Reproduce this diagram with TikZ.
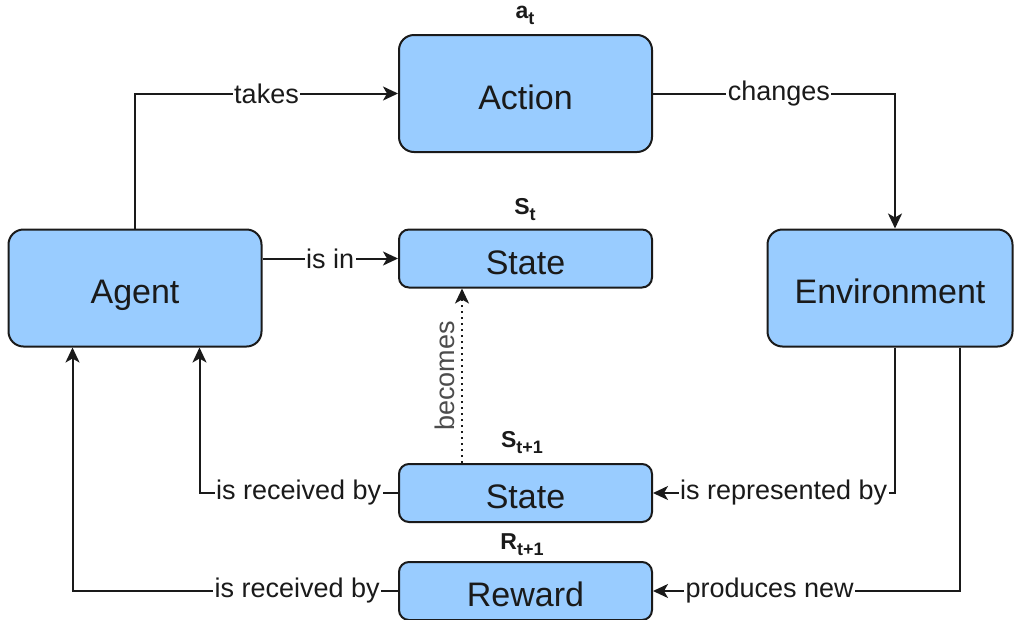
\documentclass[tikz,border=0pt]{standalone}
\usepackage{fontspec}
\setmainfont{Liberation Sans}
\usetikzlibrary{arrows.meta,calc}
\definecolor{boxfill}{HTML}{99CCFF}
\definecolor{ink}{HTML}{1A1A1A}
\newcommand\lowsub[1]{\raisebox{-6pt}{\fontsize{18}{20}\selectfont #1}}
\begin{document}
\begin{tikzpicture}[x=1pt,y=-1pt,
  box/.style={draw=ink, fill=boxfill, line width=2pt, rounded corners=15pt,
    inner sep=0pt, text=ink, text height=31pt, text depth=0pt,
    font=\fontsize{34}{40}\selectfont},
  bigbox/.style={box, minimum width=253pt, minimum height=117pt},
  slimbox/.style={box, minimum width=253pt, minimum height=58pt, rounded corners=10pt},
  link/.style={draw=ink, line width=2pt, -{Stealth[length=15pt,width=14pt,inset=4pt]}},
  tag/.style={fill=white, inner sep=1.5pt, text=ink, font=\fontsize{27}{32}\selectfont},
  sym/.style={text=ink, inner sep=0pt, font=\fontsize{23}{26}\selectfont\bfseries}]
\useasboundingbox (0,0) rectangle (1014,619);

% main blocks
\node[bigbox] (action) at (525.5,93.5) {Action};
\node[bigbox] (agent) at (135,288) {Agent};
\node[bigbox, minimum width=245pt] (env) at (890,288) {Environment};
\node[slimbox] (st) at (525.5,258.5) {State};
\node[slimbox] (snext) at (525.5,493) {State};
\node[slimbox] (reward) at (525.5,591) {Reward};

% symbols above the blocks
\node[sym] (asym) at (525,15) {a\lowsub{t}};
\node[sym] (ssym) at (525,210) {S\lowsub{t}};
\node[sym] (snsym) at (522,443) {S\lowsub{t+1}};
\node[sym] (rsym) at (522,545) {R\lowsub{t+1}};

% connectors
\draw[link] (agent.north) |- node[tag,pos=0.75]{takes} (action.west);
\draw[link] (action.east) -| node[tag,pos=0.26]{changes} ([xshift=5pt]env.north);
\draw[link] (agent.east |- st.west) -- node[tag]{is in} (st.west);
\draw[link, dash pattern=on 2pt off 4pt] ([xshift=-63.5pt]snext.north) --
  node[midway, sloped, above, inner sep=6pt, text=black!70,
       font=\fontsize{27}{32}\selectfont]{becomes} ([xshift=-63.5pt]st.south);
\draw[link] ([xshift=5pt]env.south) |- node[tag,pos=0.73]{is represented by} (snext.east);
\draw[link] ([xshift=70pt]env.south) |- node[tag,pos=0.81]{produces new} (reward.east);
\draw[link] (snext.west) -| node[tag,pos=0.25]{is received by} ([xshift=192pt]agent.south west);
\draw[link] (reward.west) -| node[tag,pos=0.155]{is received by} ([xshift=65pt]agent.south west);
\end{tikzpicture}
\end{document}
